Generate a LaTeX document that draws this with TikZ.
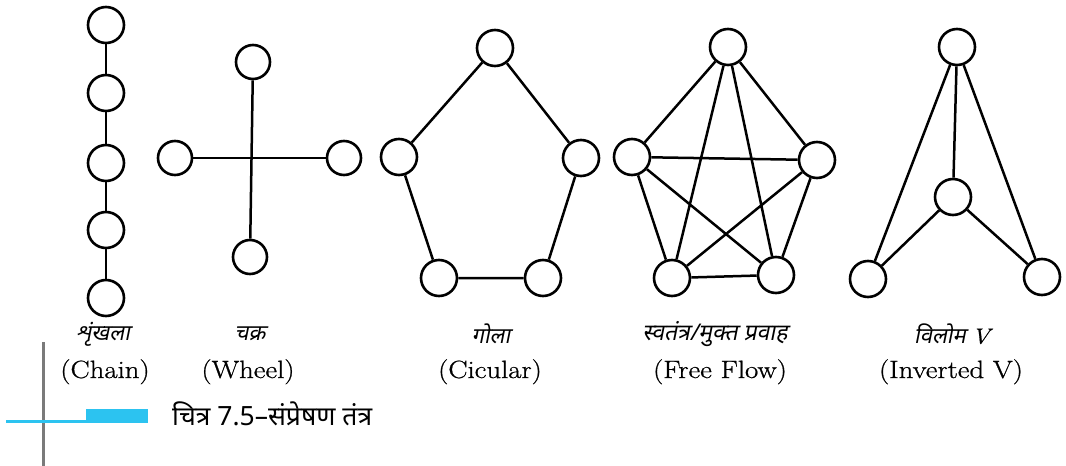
\documentclass[tikz,border=0pt]{standalone}
\usepackage{fontspec}
\newfontfamily\dev[Script=Devanagari]{Noto Sans}
\newfontfamily\devit[Script=Devanagari,FakeSlant=0.2]{Noto Sans}
\newfontfamily\lab{Latin Modern Roman}[FakeStretch=1.15,FakeBold=0.8]
\definecolor{capcyan}{HTML}{2CC3F0}
\definecolor{capgray}{HTML}{7A7A7A}
\tikzset{
  nd/.style={circle,draw=black,line width=2.6pt,minimum size=36pt,inner sep=0pt,fill=white},
  ed/.style={line width=2.5pt,black},
  hin/.style={font=\devit\fontsize{22}{26}\selectfont,inner sep=0pt},
  eng/.style={font=\lab\fontsize{25}{28}\selectfont,inner sep=0pt,anchor=base},
}
\begin{document}
\begin{tikzpicture}[x=1pt,y=-1pt]
\useasboundingbox (0,0) rectangle (1066,466);
% Chain
\node[nd] (c1) at (106,25) {};
\node[nd] (c2) at (106,93) {};
\node[nd] (c3) at (106,163) {};
\node[nd] (c4) at (106,230) {};
\node[nd] (c5) at (106,298) {};
\draw[ed] (c1)--(c2) (c2)--(c3) (c3)--(c4) (c4)--(c5);
% Wheel
\node[nd,minimum size=34pt] (wt) at (253,62) {};
\node[nd,minimum size=34pt] (wl) at (175,158) {};
\node[nd,minimum size=34pt] (wr) at (344,158) {};
\node[nd,minimum size=34pt] (wb) at (250,257) {};
\draw[ed] (wt)--(wb);
\draw[ed] (wl)--(wr);
% Circular
\node[nd] (ot) at (495,48) {};
\node[nd] (ol) at (399,157) {};
\node[nd] (or) at (581,158) {};
\node[nd] (obl) at (439,278) {};
\node[nd] (obr) at (543,278) {};
\draw[ed] (ot)--(ol) (ol)--(obl) (obl)--(obr) (obr)--(or) (or)--(ot);
% Free flow
\node[nd] (ft) at (728,47) {};
\node[nd] (fl) at (632,157) {};
\node[nd] (fr) at (817,160) {};
\node[nd] (fbl) at (672,278) {};
\node[nd] (fbr) at (776,275) {};
\draw[ed] (ft)--(fl) (ft)--(fr) (ft)--(fbl) (ft)--(fbr)
  (fl)--(fr) (fl)--(fbl) (fl)--(fbr)
  (fr)--(fbl) (fr)--(fbr) (fbl)--(fbr);
% Inverted V
\node[nd] (vt) at (957,47) {};
\node[nd] (vm) at (953,197) {};
\node[nd] (vbl) at (868,279) {};
\node[nd] (vbr) at (1042,277) {};
\draw[ed] (vt)--(vbl) (vt)--(vbr) (vt)--(vm) (vm)--(vbl) (vm)--(vbr);
% Labels
\node[hin] (h1) at (103,334) {शृंखला};
\node[eng] (e1) at (105,378) {(Chain)};
\node[hin] (h2) at (250,334) {चक्र};
\node[eng] (e2) at (248,378) {(Wheel)};
\node[hin] (h3) at (491,334) {गोला};
\node[eng] (e3) at (490,378) {(Cicular)};
\node[hin] (h4) at (715,334) {\fontsize{23}{26}\selectfont स्वतंत्र/मुक्त प्रवाह};
\node[eng] (e4) at (720,378) {(Free Flow)};
\node[hin] (h5) at (952,334) {विलोम {\lab\itshape V}};
\node[eng] (e5) at (951,378) {(Inverted V)};
% Caption
\draw[capgray,line width=3pt] (43,342) -- (43,466);
\draw[capcyan,line width=3pt] (6,421) -- (86,421);
\fill[capcyan] (86,409) rectangle (148,423);
\node[font=\dev\fontsize{26.5}{30}\selectfont,anchor=base west,inner sep=0pt] (cap) at (172,425) {चित्र 7.5–संप्रेषण तंत्र};
\end{tikzpicture}
\end{document}
